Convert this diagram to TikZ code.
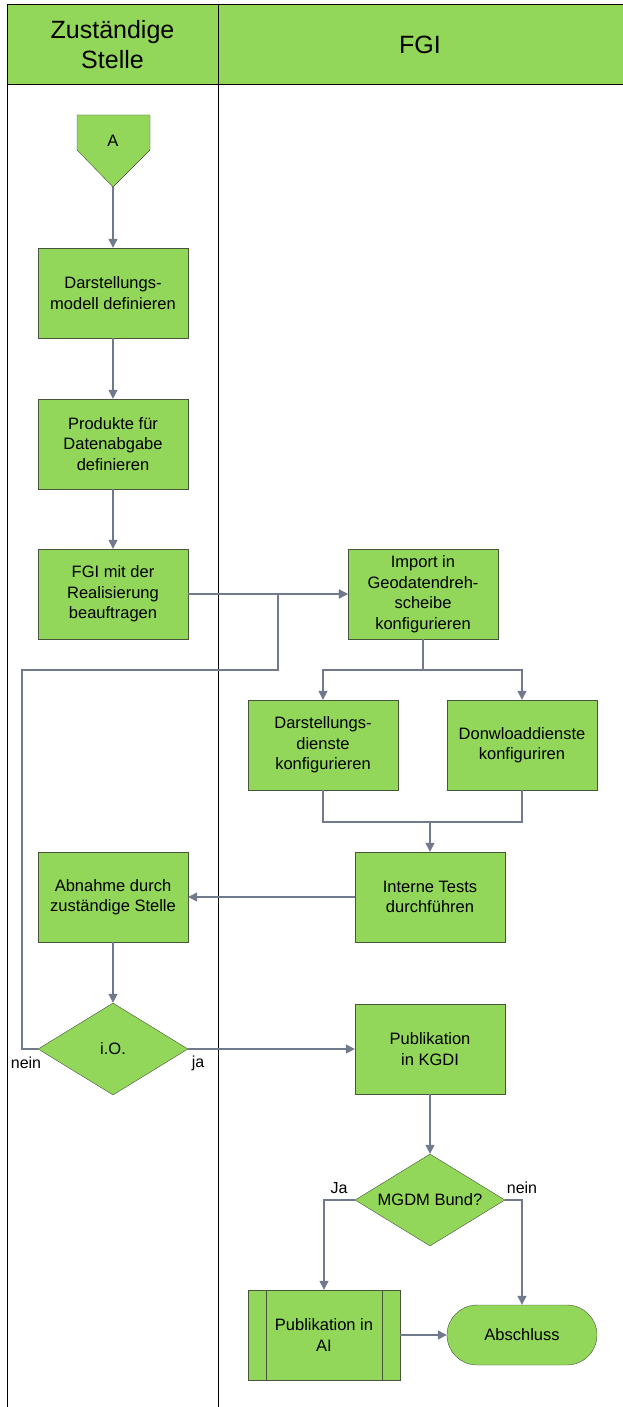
\documentclass[tikz,border=0pt]{standalone}
\usepackage{fontspec}
\setmainfont{Liberation Sans}
\usetikzlibrary{arrows.meta}
\usetikzlibrary{shapes.geometric}
\definecolor{flowgreen}{RGB}{146,214,90}
\definecolor{flowline}{RGB}{112,122,140}
\definecolor{flowedge}{RGB}{72,84,60}

\begin{document}
\begin{tikzpicture}[x=1pt, y=-1pt,
    proc/.style={draw=flowedge, fill=flowgreen, minimum width=150pt, minimum height=90pt,
        align=center, font=\fontsize{16.5}{20.5}\selectfont, inner sep=2pt},
    decide/.style={draw=flowedge, fill=flowgreen, diamond, minimum width=150pt, minimum height=92pt,
        aspect=1.6, inner sep=0pt, font=\fontsize{16.5}{20.5}\selectfont},
    conn/.style={draw=flowline, line width=1.3pt, -{Triangle[width=9pt,length=9pt]}},
    plain/.style={draw=flowline, line width=1.3pt},
    lbl/.style={font=\fontsize{16}{18}\selectfont}]
    \useasboundingbox (0,0) rectangle (623,1407);

    % Swimlanes
    \fill[flowgreen] (7,5) rectangle (623,85);
    \draw[line width=1pt] (7,1407) -- (7,5) -- (623,5);
    \draw[line width=1pt] (7,85) -- (623,85);
    \draw[line width=1pt] (218,5) -- (218,1407);
    \node[align=center, font=\fontsize{25}{30}\selectfont] (laneA) at (112.5,45) {Zuständige\\Stelle};
    \node[font=\fontsize{25}{30}\selectfont] (laneB) at (420,45) {FGI};

    % Start connector
    \draw[draw=flowedge, fill=flowgreen] (77,115) -- (150,115) -- (150,150) -- (113,187) -- (77,150) -- cycle;
    \node[font=\fontsize{16.5}{18}\selectfont] (A) at (113,141) {A};
    \coordinate (Atip) at (113,187);

    % Zustaendige Stelle
    \node[proc] (modell) at (113,293) {Darstellungs-\\modell definieren};
    \node[proc] (produkte) at (113,444) {Produkte für\\Datenabgabe\\definieren};
    \node[proc] (beauf) at (113,594) {FGI mit der\\Realisierung\\beauftragen};
    \node[proc] (abnahme) at (113,897) {Abnahme durch\\zuständige Stelle};
    \node[decide] (io) at (113,1049) {i.O.};

    % FGI
    \node[proc] (import) at (423,594) {Import in\\Geodatendreh-\\scheibe\\konfigurieren};
    \node[proc] (darst) at (323,745) {Darstellungs-\\dienste\\konfigurieren};
    \node[proc] (download) at (522,745) {Donwloaddienste\\konfiguriren};
    \node[proc] (tests) at (430,897) {Interne Tests\\durchführen};
    \node[proc] (kgdi) at (430,1049) {Publikation\\in KGDI};
    \node[decide] (mgdm) at (430,1200) {MGDM Bund?};
    \node[proc, minimum width=152pt] (pubai) at (324,1335) {Publikation in\\AI};
    \draw[draw=flowedge] (pubai.north west) ++(18,0) -- ++(0,90);
    \draw[draw=flowedge] (pubai.north east) ++(-18,0) -- ++(0,90);
    \node[proc, minimum height=60pt, rounded corners=30pt] (ende) at (522,1335) {Abschluss};

    % Connectors
    \draw[conn] (Atip) -- (modell.north);
    \draw[conn] (modell.south) -- (produkte.north);
    \draw[conn] (produkte.south) -- (beauf.north);
    \draw[conn] (beauf.east) -- (import.west);
    \coordinate (split) at (423,670);
    \draw[plain] (import.south) -- (split);
    \draw[conn] (split) -| (darst.north);
    \draw[conn] (split) -| (download.north);
    \coordinate (merge) at (430,822);
    \draw[plain] (darst.south) |- (merge) -| (download.south);
    \draw[conn] (merge) -- (tests.north);
    \draw[conn] (tests.west) -- (abnahme.east);
    \draw[conn] (abnahme.south) -- (io.north);
    \draw[conn] (io.east) -- (kgdi.west);
    \coordinate (loopA) at (22,670);
    \coordinate (loopB) at (278,670);
    \draw[conn] (io.west) -| (loopA) -- (loopB) |- (import.west);
    \draw[conn] (kgdi.south) -- (mgdm.north);
    \draw[conn] (mgdm.west) -| (pubai.north);
    \draw[conn] (mgdm.east) -| (ende.north);
    \draw[conn] (pubai.east) -- (ende.west);

    % Branch labels
    \node[lbl] (nein1) at (26,1063) {nein};
    \node[lbl] (ja1) at (198,1063) {ja};
    \node[lbl] (ja2) at (339,1188) {Ja};
    \node[lbl] (nein2) at (522,1188) {nein};
\end{tikzpicture}
\end{document}
